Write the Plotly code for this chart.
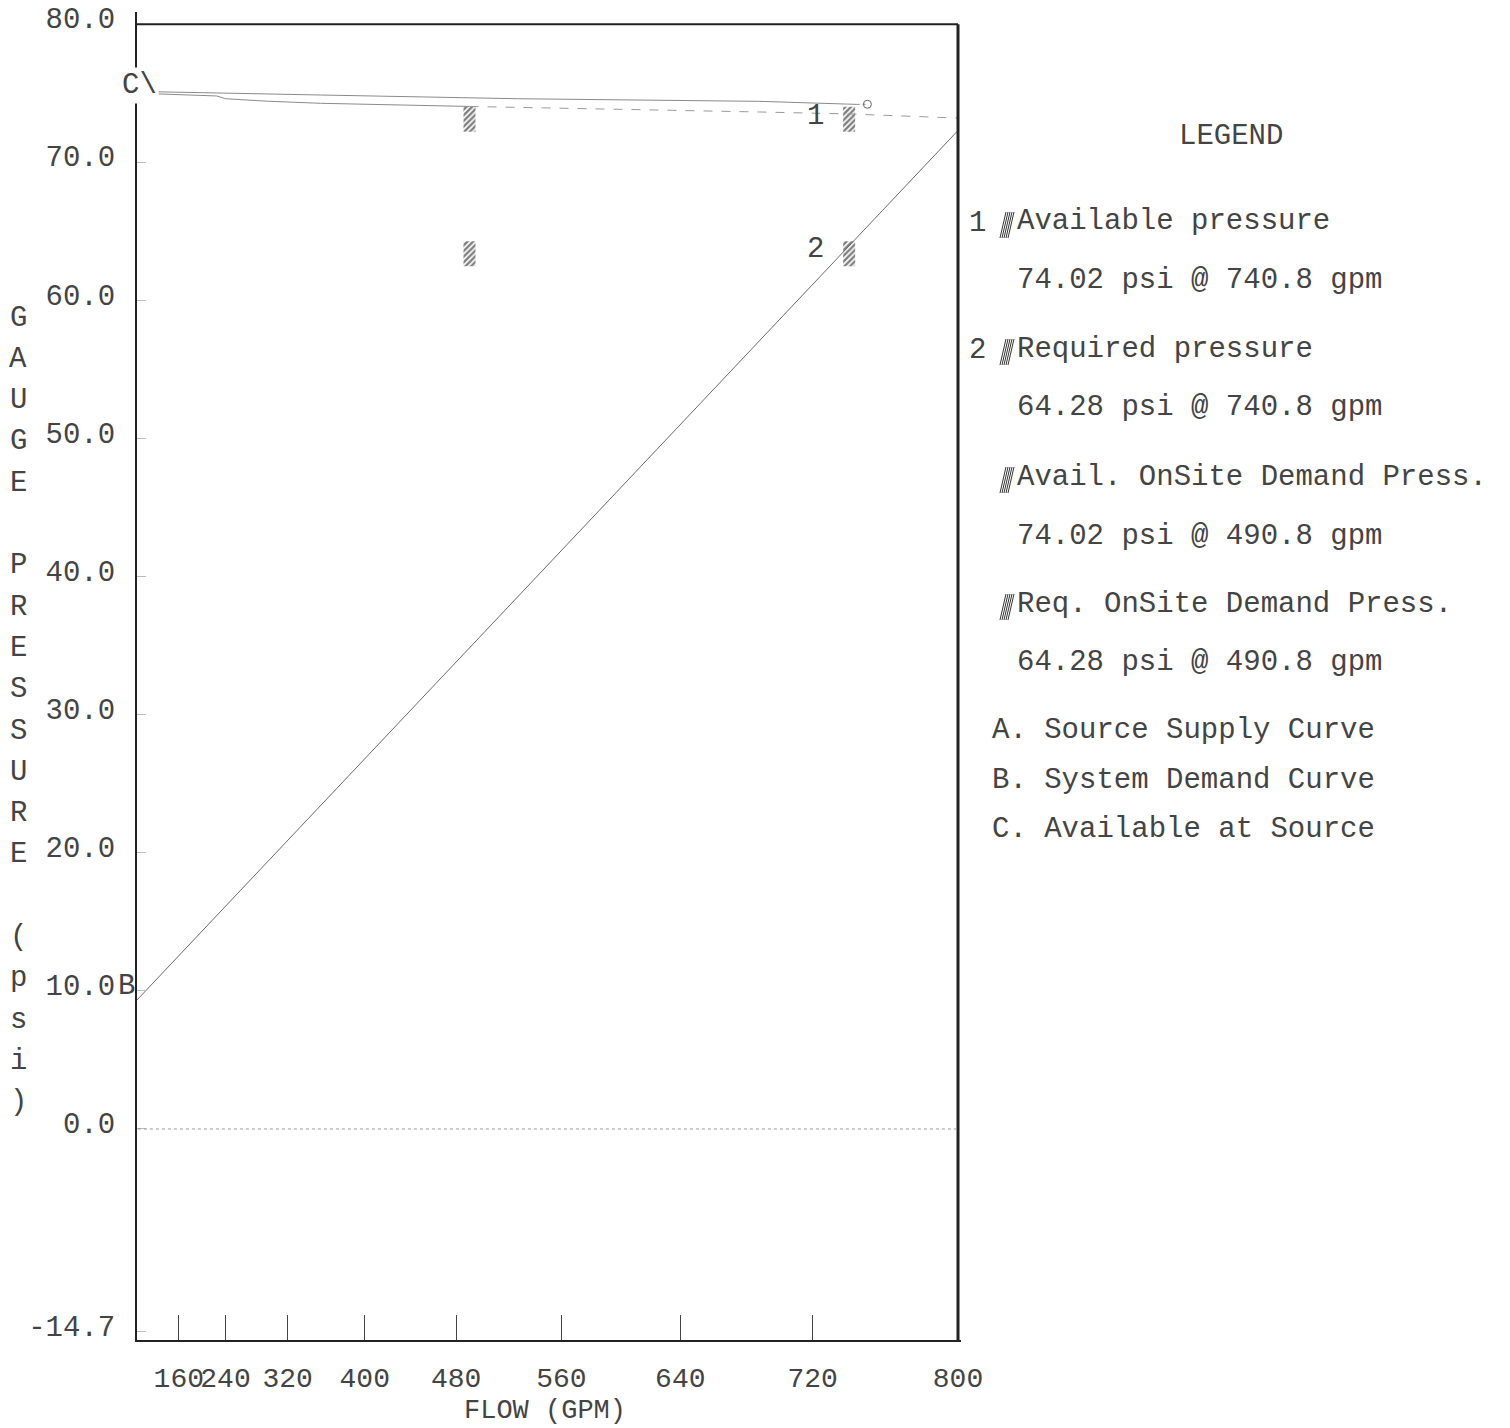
import numpy as np
import plotly.graph_objects as go

# ---------------- data ----------------
EXP = 1.85  # hydraulic graph paper: flow axis scaled as Q^1.85

x_ticks = [160, 240, 320, 400, 480, 560, 640, 720, 800]
x_tick_labels = ["160", "240", "320", "400", "480", "560", "640", "720", "800"]
y_ticks = [80.0, 70.0, 60.0, 50.0, 40.0, 30.0, 20.0, 10.0, 0.0, -14.7]
y_tick_labels = ["80.0", "70.0", "60.0", "50.0", "40.0", "30.0", "20.0", "10.0", "0.0", "-14.7"]

# A. Source supply curve (solid)
supply_flow = [0, 227, 356, 528, 689, 745]
supply_psi = [75.13, 75.0, 74.87, 74.6, 74.41, 74.19]
supply_end_flow = [751]
supply_end_psi = [74.2]

# C. Available at source (solid to on-site demand, then dashed)
avail_flow = [0, 227, 240, 296, 356, 447, 490.8]
avail_psi = [75.0, 74.8, 74.6, 74.42, 74.27, 74.1, 74.04]
avail_dash_flow = [490.8, 600, 689, 740, 800]
avail_dash_psi = [74.04, 73.86, 73.64, 73.5, 73.2]

# B. System demand curve
demand_flow = [0, 800]
demand_psi = [9.34, 72.3]

# hatched points
point_flow = [740.8, 740.8, 490.8, 490.8]
point_psi = [74.02, 64.28, 74.02, 64.28]

legend_entries = [
    ("1", "Available pressure", "74.02 psi @ 740.8 gpm"),
    ("2", "Required pressure", "64.28 psi @ 740.8 gpm"),
    ("", "Avail. OnSite Demand Press.", "74.02 psi @ 490.8 gpm"),
    ("", "Req. OnSite Demand Press.", "64.28 psi @ 490.8 gpm"),
]
curve_legend = ["A. Source Supply Curve", "B. System Demand Curve", "C. Available at Source"]
y_title = "GAUGE PRESSURE (psi)"

# ---------------- layout geometry ----------------
W, H = 1510, 1428
L, R = 137, 961          # plot area px (left/right)
T, B = 12, 1340          # plot area px (top/bottom)


def tq(q):
    return np.power(np.asarray(q, dtype=float), EXP)


T800 = float(tq(800))
xmax = T800 * (R - L) / (958 - L)
yrange = [-15.28, 80.88]

FONT = "Liberation Mono"
TXT = "#444444"
FS = 29


def px(xp):
    return (xp - L) / (R - L)


def py(yp):
    return (B - yp) / (B - T)


fig = go.Figure()

line_style = dict(color="#8a8a8a", width=1)
fig.add_trace(go.Scatter(x=tq(demand_flow), y=demand_psi, mode="lines",
                         line=dict(color="#6a6a6a", width=1), name="B"))
fig.add_trace(go.Scatter(x=tq(supply_flow), y=supply_psi, mode="lines",
                         line=line_style, name="A"))
fig.add_trace(go.Scatter(x=tq([supply_flow[-1], supply_end_flow[0]]),
                         y=[supply_psi[-1], supply_end_psi[0]], mode="lines",
                         line=dict(color="#8a8a8a", width=1, dash="dot"), showlegend=False))
fig.add_trace(go.Scatter(x=tq(supply_end_flow), y=supply_end_psi, mode="markers",
                         marker=dict(symbol="circle-open", size=8, color="#666",
                                     line=dict(width=1)), showlegend=False))
fig.add_trace(go.Scatter(x=tq(avail_flow), y=avail_psi, mode="lines",
                         line=line_style, name="C"))
fig.add_trace(go.Scatter(x=tq(avail_dash_flow), y=avail_dash_psi, mode="lines",
                         line=dict(color="#9a9a9a", width=1, dash="dash"), showlegend=False))

# hatched marks (drawn hanging below each point)
hatch_h = 25 / ((B - T) / (yrange[1] - yrange[0]))
bar_w = 12 * xmax / (R - L)
fig.add_trace(go.Bar(
    x=tq(point_flow), y=[hatch_h] * len(point_psi),
    base=[p - hatch_h for p in point_psi], width=bar_w,
    marker=dict(color="white", line=dict(width=0),
                pattern=dict(shape="/", fgcolor="#000", bgcolor="white", size=4, solidity=0.6)),
    showlegend=False))

shapes = []
# frame: top and right lines
shapes.append(dict(type="line", xref="x", yref="y", x0=0, x1=T800, y0=80, y1=80,
                   line=dict(color="#222", width=2)))
shapes.append(dict(type="line", xref="x", yref="y", x0=T800, x1=T800, y0=yrange[0], y1=80,
                   line=dict(color="#222", width=3)))
# dotted zero line
shapes.append(dict(type="line", xref="x", yref="y", x0=float(tq(20)), x1=T800, y0=0, y1=0,
                   line=dict(color="#999", width=1, dash="dot")))


def hatch_glyph(x0, y0, w=14, h=26, n=5):
    segs = []
    for k in range(n):
        bx = x0 + k * (w - 6) / (n - 1)
        segs.append(f"M {px(bx):.5f} {py(y0 + h):.5f} L {px(bx + 6):.5f} {py(y0):.5f}")
    return dict(type="path", xref="paper", yref="paper", path=" ".join(segs),
                line=dict(color="#333", width=1))


annotations = []


def txt(s, xp, yp, xanchor="center", size=FS, **kw):
    annotations.append(dict(text=s, x=px(xp), y=py(yp), xref="paper", yref="paper",
                            xanchor=xanchor, yanchor="middle", showarrow=False,
                            font=dict(family=FONT, size=size, color=TXT), **kw))


# vertical axis title, one letter per line
for i, ch in enumerate(y_title):
    if ch != " ":
        txt(ch, 18, 318 + 41.3 * i)

# on-chart labels
txt("C\\", 139, 85, bgcolor="white", borderpad=1)
txt("B", 126, 986)
txt("1", 815, 117)
txt("2", 815, 249)
txt("FLOW (GPM)", 545, 1411, size=27)

# legend
txt("LEGEND", 1231, 137)
rows = [(222, 281), (349, 407), (477, 536), (604, 662)]
for (num, label, value), (y1, y2) in zip(legend_entries, rows):
    if num:
        txt(num, 977, y1 + 2)
    shapes.append(hatch_glyph(1000, y1 - 10))
    txt(label, 1015, y1, xanchor="left")
    txt(value, 1015, y2, xanchor="left")
for s, yy in zip(curve_legend, [730, 780, 829]):
    txt(s, 990, yy, xanchor="left")

fig.update_layout(
    width=W, height=H, autosize=False,
    margin=dict(l=L, r=W - R, t=T, b=H - B, pad=0, autoexpand=False),
    paper_bgcolor="white", plot_bgcolor="white",
    showlegend=False, barmode="overlay",
    shapes=shapes, annotations=annotations,
    xaxis=dict(range=[0, xmax], tickmode="array", tickvals=tq(x_ticks).tolist(),
               ticktext=x_tick_labels, tickangle=0, ticks="inside", ticklen=25, tickwidth=1,
               tickcolor="#444", showgrid=False, zeroline=False, automargin=False,
               showline=True, linecolor="#222", linewidth=2,
               tickfont=dict(family=FONT, size=28, color=TXT), ticklabelstandoff=11),
    yaxis=dict(range=yrange, tickmode="array", tickvals=y_ticks, ticktext=y_tick_labels,
               ticks="inside", ticklen=9, tickwidth=1, tickcolor="#bbb", automargin=False,
               showgrid=False, zeroline=False, showline=True, linecolor="#222",
               linewidth=2, tickfont=dict(family=FONT, size=FS, color=TXT),
               ticklabelstandoff=14, ticklabelshift=-6, ticklabeloverflow="allow"),
)

# remove the default page margin so the figure fills the window exactly
fig.write_html("out.html", config={"displayModeBar": False},
               post_script="document.body.style.margin='0';document.body.style.overflow='hidden';")
